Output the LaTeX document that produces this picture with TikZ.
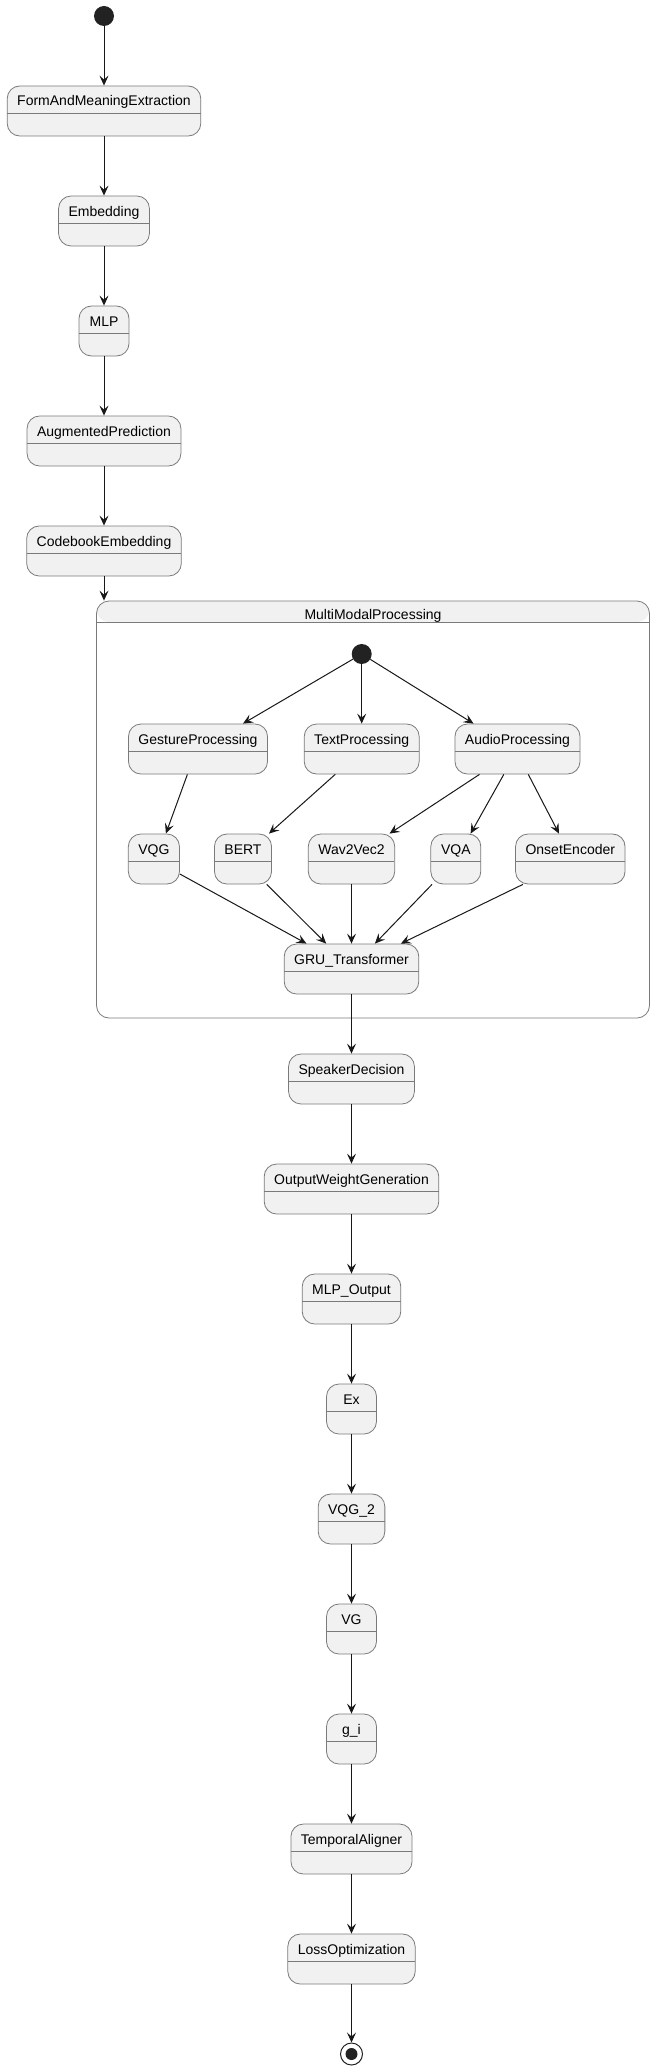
\documentclass[tikz,border=0pt]{standalone}
\usepackage{fontspec}
\setmainfont{Liberation Sans}
\usetikzlibrary{arrows.meta}
\definecolor{statefill}{HTML}{F1F1F1}
\definecolor{statedraw}{HTML}{181818}
\definecolor{stateline}{HTML}{7A7A7A}
\definecolor{dotfill}{HTML}{222222}

\begin{document}
\begin{tikzpicture}[x=1pt, y=-1pt,
    every node/.style={font=\fontsize{14}{16}\selectfont},
    stbox/.style={draw=stateline, line width=0.8pt, fill=statefill, rounded corners=12.5pt,
      minimum width=50pt, minimum height=50pt, inner xsep=10pt, inner ysep=0pt,
      text height=20pt, text depth=30pt,
      path picture={\draw[stateline, line width=0.8pt] ([yshift=-27pt]path picture bounding box.north west) -- ([yshift=-27pt]path picture bounding box.north east);}},
    compbox/.style={draw=stateline, line width=0.8pt, fill=white, rounded corners=12.5pt,
      minimum width=553pt, minimum height=417pt, inner sep=0pt,
      path picture={\fill[statefill] (path picture bounding box.north west) rectangle ([yshift=-21pt]path picture bounding box.north east);
        \draw[stateline, line width=0.8pt] ([yshift=-21pt]path picture bounding box.north west) -- ([yshift=-21pt]path picture bounding box.north east);}},
    initdot/.style={circle, fill=dotfill, minimum size=20pt, inner sep=0pt},
    finaldot/.style={circle, draw=dotfill, fill=white, line width=1pt, minimum size=22pt, inner sep=0pt,
      path picture={\fill[dotfill] (path picture bounding box.center) circle (6pt);}},
    trans/.style={draw=statedraw, line width=1pt, -{Stealth[length=10pt, width=9pt, inset=4pt]}}]

  \useasboundingbox (0,0) rectangle (655,2071);

  \node[initdot] (init) at (104,16) {};
  \node[stbox] (fame) at (104,111) {FormAndMeaningExtraction};
  \node[stbox] (emb) at (104,221) {Embedding};
  \node[stbox] (mlp) at (104,331) {MLP};
  \node[stbox] (aug) at (104,441) {AugmentedPrediction};
  \node[stbox] (cbe) at (104,551) {CodebookEmbedding};

  \node[compbox] (mmp) at (373,809.5) {};
  \node[anchor=base] (mmptitle) at (373,619) {MultiModalProcessing};
  \node[initdot] (minit) at (361.7,654) {};
  \node[stbox] (gesture) at (198,749) {GestureProcessing};
  \node[stbox] (txt) at (361.7,749) {TextProcessing};
  \node[stbox] (audio) at (517.5,749) {AudioProcessing};
  \node[stbox] (vqg) at (153.9,859) {VQG};
  \node[stbox] (bert) at (243,859) {BERT};
  \node[stbox] (wav) at (351.5,859) {Wav2Vec2};
  \node[stbox] (vqa) at (455.8,859) {VQA};
  \node[stbox] (onset) at (570.3,859) {OnsetEncoder};
  \node[stbox] (gru) at (351.5,969) {GRU\_Transformer};

  \node[stbox] (speaker) at (351.5,1079) {SpeakerDecision};
  \node[stbox] (owg) at (351.5,1189) {OutputWeightGeneration};
  \node[stbox] (mlpout) at (351.5,1299) {MLP\_Output};
  \node[stbox] (ex) at (351.5,1409) {Ex};
  \node[stbox] (vqgtwo) at (351.5,1519) {VQG\_2};
  \node[stbox] (vg) at (351.5,1629) {VG};
  \node[stbox] (gi) at (351.5,1739) {g\_i};
  \node[stbox] (tal) at (351.5,1849) {TemporalAligner};
  \node[stbox] (loss) at (351.5,1959) {LossOptimization};
  \node[finaldot] (final) at (351.5,2054) {};

  \foreach \a/\b in {init/fame, fame/emb, emb/mlp, mlp/aug, aug/cbe}
    \draw[trans] (\a) -- (\b);
  \draw[trans] (cbe) -- (cbe.south |- mmp.north);

  \draw[trans] (minit) -- ([xshift=45pt]gesture.north);
  \draw[trans] (minit) -- (txt);
  \draw[trans] (minit) -- ([xshift=-44pt]audio.north);
  \draw[trans] ([xshift=-10.6pt]gesture.south) -- ([xshift=12pt]vqg.north);
  \draw[trans] ([xshift=-26.5pt]txt.south) -- ([xshift=26pt]bert.north);
  \draw[trans] ([xshift=-38pt]audio.south) -- ([xshift=38pt]wav.north);
  \draw[trans] ([xshift=-13.7pt]audio.south) -- ([xshift=14.8pt]vqa.north);
  \draw[trans] ([xshift=10.8pt]audio.south) -- ([xshift=-11.3pt]onset.north);
  \draw[trans] ([yshift=-15pt]vqg.east) -- ([xshift=-45pt]gru.north);
  \draw[trans] ([xshift=23.8pt]bert.south) -- ([xshift=-25.3pt]gru.north);
  \draw[trans] (wav) -- (gru);
  \draw[trans] ([xshift=-23.8pt]vqa.south) -- ([xshift=23.4pt]gru.north);
  \draw[trans] ([xshift=-47.4pt]onset.south) -- ([xshift=49.4pt]gru.north);

  \foreach \a/\b in {gru/speaker, speaker/owg, owg/mlpout, mlpout/ex, ex/vqgtwo, vqgtwo/vg, vg/gi, gi/tal, tal/loss, loss/final}
    \draw[trans] (\a) -- (\b);

\end{tikzpicture}
\end{document}
